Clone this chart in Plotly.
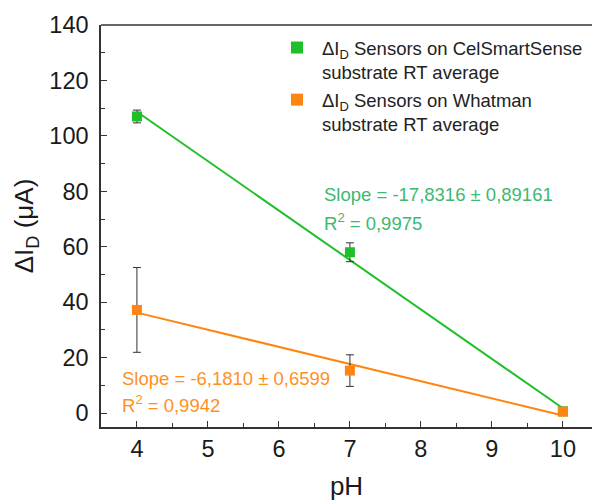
import numpy as np
import plotly.graph_objects as go

# Measured drain-current change vs pH
ph = [4, 7, 10]
cel_mean = [107.0, 58.0, 0.6]
cel_err = [2.3, 3.4, 0.6]
wha_mean = [37.2, 15.3, 0.5]
wha_err = [15.3, 5.7, 0.5]

# Linear fit results (slope values as reported)
cel_slope = -17.8316
wha_slope = -6.1810
cel_label = ["Slope = -17,8316 ± 0,89161", "R<sup>2</sup> = 0,9975"]
wha_label = ["Slope = -6,1810 ± 0,6599", "R<sup>2</sup> = 0,9942"]

x_ticks = [4, 5, 6, 7, 8, 9, 10]
y_ticks = [0, 20, 40, 60, 80, 100, 120, 140]

GREEN = "#1FBF2A"
ORANGE = "#FF8412"
GREEN_TXT = "#3DB871"
ORANGE_TXT = "#FF901F"
AXIS = "#333333"
FONT = "Liberation Sans, Arial, sans-serif"

# Plot box in pixels (figure is 592 x 503)
L, T, B = 101, 25, 427
W = 592 - L
H = B - T


def px_x(x):
    return (x - L) / W


def px_y(y):
    return (B - y) / H


def fit_line(x, y, slope):
    x = np.asarray(x, float)
    y = np.asarray(y, float)
    b = y.mean() - slope * x.mean()
    xs = np.array([x.min(), x.max()])
    return xs, slope * xs + b


fig = go.Figure()

for mean, slope, color in [(cel_mean, cel_slope, GREEN), (wha_mean, wha_slope, ORANGE)]:
    xs, ys = fit_line(ph, mean, slope)
    fig.add_trace(go.Scatter(x=xs, y=ys, mode="lines", line=dict(color=color, width=2),
                             showlegend=False, hoverinfo="skip"))

for i, (mean, err, color, name) in enumerate([
    (cel_mean, cel_err, GREEN, "ΔI<sub>D</sub> Sensors on CelSmartSense<br>substrate RT average"),
    (wha_mean, wha_err, ORANGE, "ΔI<sub>D</sub> Sensors on Whatman<br>substrate RT average"),
]):
    fig.add_trace(go.Scatter(
        x=ph, y=mean, mode="markers", name=name, legendgroup=f"g{i}",
        marker=dict(symbol="square", size=10, color=color),
        error_y=dict(type="data", array=err, visible=True, color="#333333",
                     thickness=1, width=4),
    ))

# Fit statistics text, one annotation per line
for lines, x0, ys, col in [
    (cel_label, 322, (195, 222), GREEN_TXT),
    (wha_label, 120, (378, 404), ORANGE_TXT),
]:
    for txt, yy in zip(lines, ys):
        fig.add_annotation(xref="paper", yref="paper", x=px_x(x0), y=px_y(yy),
                           xanchor="left", yanchor="middle", align="left",
                           showarrow=False, text=txt,
                           font=dict(family=FONT, size=18.5, color=col))

# Top frame line (the right side of the frame falls outside the view)
fig.add_shape(type="line", xref="paper", yref="paper", x0=0, x1=1, y0=1, y1=1,
              line=dict(color=AXIS, width=1.5))

fig.update_layout(
    width=592, height=503,
    margin=dict(l=L, r=0, t=T, b=503 - B),
    paper_bgcolor="white", plot_bgcolor="white",
    font=dict(family=FONT, color="#222222"),
    legend=dict(x=px_x(272), y=px_y(29), xanchor="left", yanchor="top",
                bgcolor="rgba(0,0,0,0)", font=dict(size=18.5, color="#222222"),
                itemsizing="constant", valign="top", traceorder="grouped",
                tracegroupgap=1, itemwidth=40),
    xaxis=dict(range=[3.494, 10.41], tickvals=x_ticks, ticks="inside", ticklen=6,
               tickwidth=1.2, tickcolor=AXIS, showline=True, linecolor=AXIS,
               linewidth=1.5, showgrid=False, zeroline=False,
               tickfont=dict(size=23.5, color="#1a1a1a"),
               minor=dict(dtick=0.5, ticks="inside", ticklen=4, tickcolor=AXIS, showgrid=False),
               title=dict(text="pH", font=dict(size=26, color="#1a1a1a"), standoff=16)),
    yaxis=dict(range=[-5.05, 140], tickvals=y_ticks, ticks="inside", ticklen=6,
               tickwidth=1.2, tickcolor=AXIS, showline=True, linecolor=AXIS,
               linewidth=1.5, showgrid=False, zeroline=False,
               tickfont=dict(size=23.5, color="#1a1a1a"), ticklabelstandoff=6,
               minor=dict(dtick=10, ticks="inside", ticklen=4, tickcolor=AXIS, showgrid=False),
               title=dict(text="ΔI<sub>D</sub> (μA)", font=dict(size=26, color="#1a1a1a"),
                          standoff=8)),
)

fig.write_html("out.html")
